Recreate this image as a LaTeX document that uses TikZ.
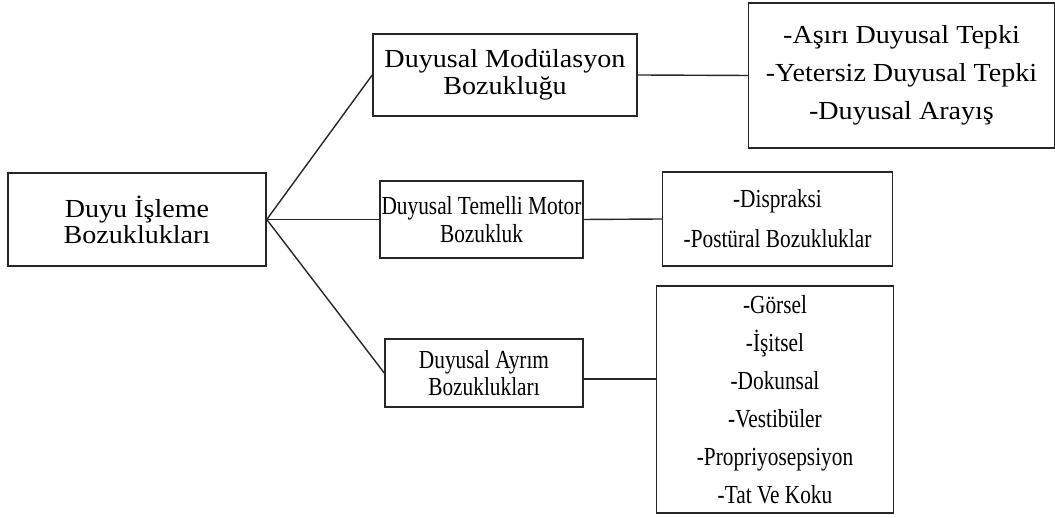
\documentclass[tikz,border=0pt]{standalone}
\usepackage{fontspec}
\setmainfont{Liberation Serif}
\newfontfamily\wideserif[FakeStretch=1.08]{Liberation Serif}
\newfontfamily\narrowserif[FakeStretch=0.82]{Liberation Serif}
\usetikzlibrary{positioning}

\begin{document}
\begin{tikzpicture}[
    x=1pt, y=1pt,
    box/.style={draw=black!85, line width=1.5pt, inner sep=0pt, align=center},
    widebox/.style={box, font=\wideserif\fontsize{26}{#1}\selectfont},
    widebox/.default=27,
    narrowbox/.style={box, font=\narrowserif\fontsize{26}{#1}\selectfont},
    narrowbox/.default=27,
    link/.style={draw=black!85, line width=1.4pt}
]
  \useasboundingbox (0,0) rectangle (1055,518);

  \node[widebox=26, minimum width=258pt, minimum height=93pt] (root) at (137,298.5)
    {Duyu İşleme\\Bozuklukları};

  \node[widebox, minimum width=264pt, minimum height=82pt] (modul) at (505,443)
    {Duyusal Modülasyon\\Bozukluğu};
  \node[narrowbox=28, minimum width=203pt, minimum height=77pt] (motor) at (481.5,298.5)
    {Duyusal Temelli Motor\\Bozukluk};
  \node[narrowbox, minimum width=198pt, minimum height=68pt] (ayrim) at (484,145)
    {Duyusal Ayrım\\Bozuklukları};

  \node[widebox=38, minimum width=306pt, minimum height=145pt,
        right=110pt of modul, yshift=-0.5pt] (modlist)
    {-Aşırı Duyusal Tepki\\-Yetersiz Duyusal Tepki\\-Duyusal Arayış};
  \node[narrowbox=40, minimum width=230pt, minimum height=94pt,
        right=78pt of motor, yshift=0.5pt] (motorlist)
    {-Dispraksi\\-Postüral Bozukluklar};
  \node[narrowbox=38, minimum width=237pt, minimum height=227pt,
        right=72pt of ayrim, yshift=-26.5pt] (ayrimlist)
    {-Görsel\\-İşitsel\\-Dokunsal\\-Vestibüler\\-Propriyosepsiyon\\-Tat Ve Koku};

  \draw[link] (root.east) -- (modul.west);
  \draw[link] (root.east) -- (motor.west);
  \draw[link] (root.east) -- (ayrim.west);

  \draw[link] (modul.east) -- (modlist.west);
  \draw[link] (motor.east) -- (motorlist.west);
  \draw[link] ([yshift=-6pt]ayrim.east) -- ([yshift=-6pt]ayrim.east -| ayrimlist.west);
\end{tikzpicture}
\end{document}
